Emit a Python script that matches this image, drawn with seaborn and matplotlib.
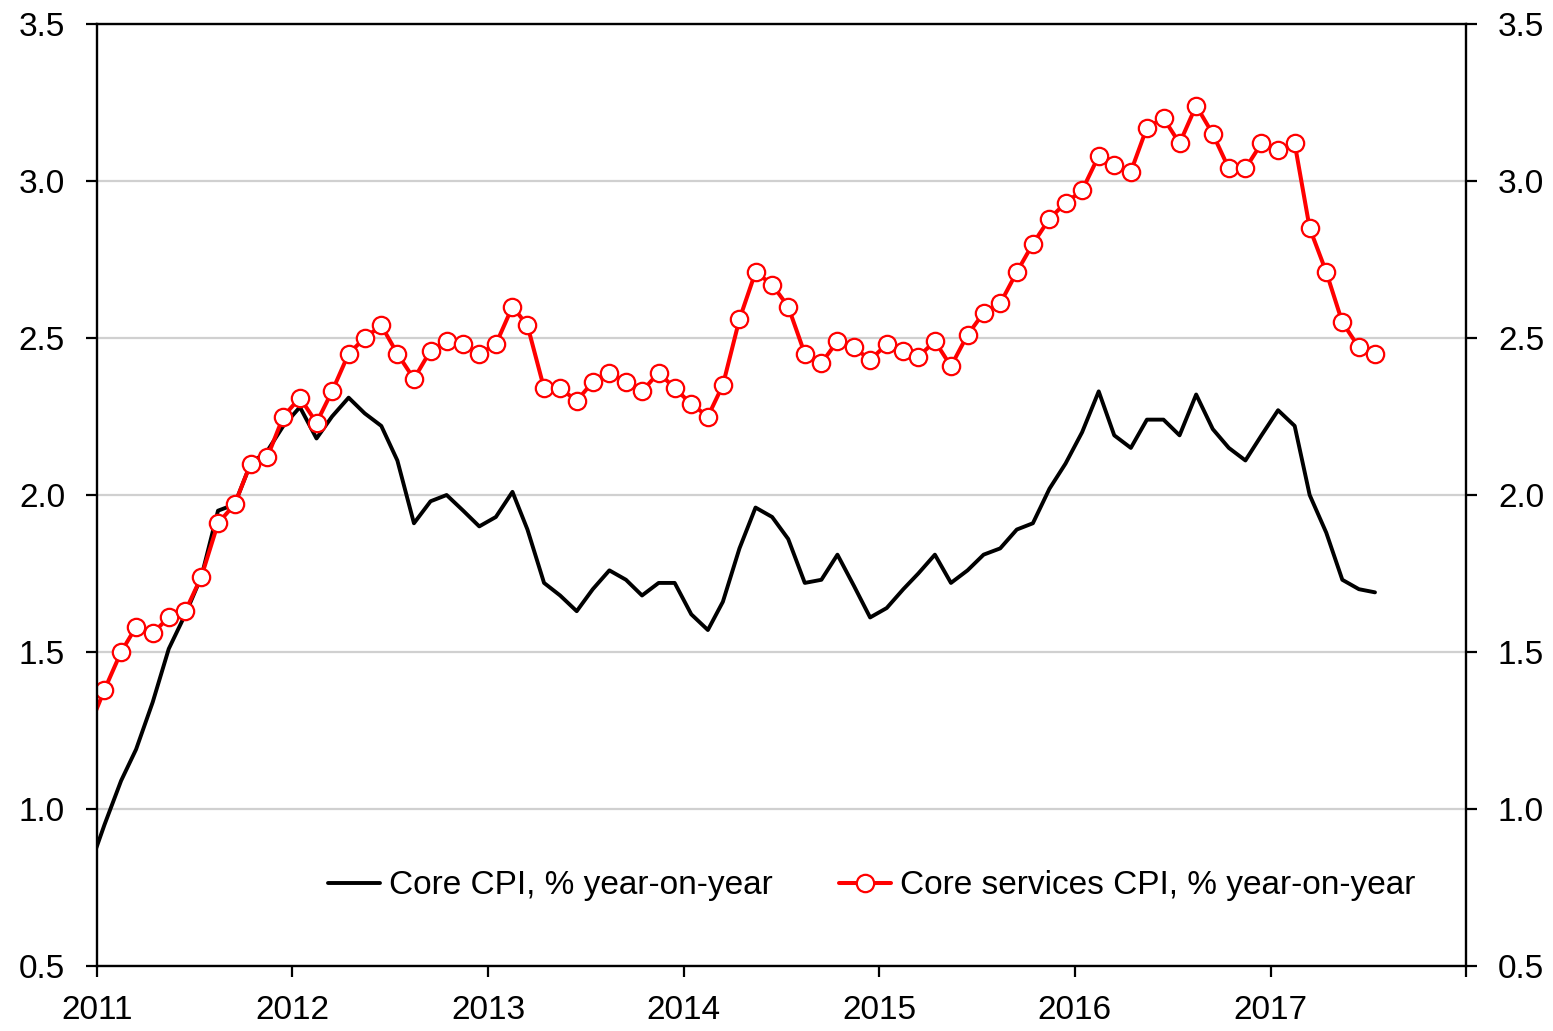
import pandas as pd
import numpy as np
import matplotlib
matplotlib.use("Agg")
import matplotlib.pyplot as plt
from matplotlib import font_manager
import seaborn as sns

# monthly data, Dec 2010 .. Jul 2017
months = pd.date_range("2010-12-01", "2017-07-01", freq="MS") + pd.Timedelta(days=14)

core_cpi = [0.80, 0.95, 1.09, 1.19, 1.34, 1.51, 1.62, 1.74, 1.95, 1.97, 2.10, 2.14, 2.22,
            2.28, 2.18, 2.25, 2.31, 2.26, 2.22, 2.11, 1.91, 1.98, 2.00, 1.95, 1.90,
            1.93, 2.01, 1.89, 1.72, 1.68, 1.63, 1.70, 1.76, 1.73, 1.68, 1.72, 1.72,
            1.62, 1.57, 1.66, 1.83, 1.96, 1.93, 1.86, 1.72, 1.73, 1.81, 1.71, 1.61,
            1.64, 1.70, 1.75, 1.81, 1.72, 1.76, 1.81, 1.83, 1.89, 1.91, 2.02, 2.10,
            2.20, 2.33, 2.19, 2.15, 2.24, 2.24, 2.19, 2.32, 2.21, 2.15, 2.11, 2.19,
            2.27, 2.22, 2.00, 1.88, 1.73, 1.70, 1.69]

core_services = [1.25, 1.38, 1.50, 1.58, 1.56, 1.61, 1.63, 1.74, 1.91, 1.97, 2.10, 2.12,
                 2.25, 2.31, 2.23, 2.33, 2.45, 2.50, 2.54, 2.45, 2.37, 2.46, 2.49, 2.48,
                 2.45, 2.48, 2.60, 2.54, 2.34, 2.34, 2.30, 2.36, 2.39, 2.36, 2.33, 2.39,
                 2.34, 2.29, 2.25, 2.35, 2.56, 2.71, 2.67, 2.60, 2.45, 2.42, 2.49, 2.47,
                 2.43, 2.48, 2.46, 2.44, 2.49, 2.41, 2.51, 2.58, 2.61, 2.71, 2.80, 2.88,
                 2.93, 2.97, 3.08, 3.05, 3.03, 3.17, 3.20, 3.12, 3.24, 3.15, 3.04, 3.04,
                 3.12, 3.10, 3.12, 2.85, 2.71, 2.55, 2.47, 2.45]

labels = ["Core CPI, % year-on-year", "Core services CPI, % year-on-year"]
years = list(range(2011, 2019))
yticks = [0.5, 1.0, 1.5, 2.0, 2.5, 3.0, 3.5]

df = pd.DataFrame({"date": months, labels[0]: core_cpi, labels[1]: core_services})

sns.set_style("white")
installed = {f.name for f in font_manager.fontManager.ttflist}
narrow = "Liberation Sans Narrow" in installed
plt.rcParams["font.family"] = ["Liberation Sans Narrow", "Liberation Sans", "DejaVu Sans"]
fs = 26 if narrow else 24
plt.rcParams["font.size"] = fs
for k in ["text.color", "xtick.color", "ytick.color", "axes.labelcolor"]:
    plt.rcParams[k] = "black"

fig = plt.figure(figsize=(15.53, 10.31), dpi=100)
ax = fig.add_axes([97 / 1553, 1 - 966 / 1031, (1466 - 97) / 1553, (966 - 24) / 1031])

sns.lineplot(data=df, x="date", y=labels[0], ax=ax, color="black", lw=2.8, label=labels[0])
# first point (Dec 2010) lies left of the axis: draw its line but no marker
sns.lineplot(data=df, x="date", y=labels[1], ax=ax, color="red", lw=2.9,
             marker="o", markersize=12.5, markerfacecolor="white",
             markeredgecolor="red", markeredgewidth=1.6, markevery=slice(1, None),
             label=labels[1])

ax.set_xlim(pd.Timestamp("2011-01-01"), pd.Timestamp("2018-01-01"))
ax.set_ylim(0.5, 3.5)
ax.set_yticks(yticks)
ax.set_yticklabels([f"{v:.1f}" for v in yticks])
ax.set_xticks([pd.Timestamp(f"{y}-01-01") for y in years])
ax.set_xticklabels([str(y) for y in years[:-1]] + [""])
ax.set_xlabel("")
ax.set_ylabel("")

ax.grid(axis="y", color="#d0d0d0", lw=1.6)
ax.set_axisbelow(True)
for s in ax.spines.values():
    s.set_color("black")
    s.set_linewidth(1.7)

ax.tick_params(axis="y", which="both", left=True, right=True, labelleft=True,
               labelright=True, direction="out", length=8, width=1.6, labelsize=fs,
               pad=15)
ax.tick_params(axis="x", bottom=True, direction="out", length=8, width=1.6,
               labelsize=fs, pad=13)

ax.legend(loc="center", bbox_to_anchor=(0.566, 0.085), ncol=2, frameon=False,
          fontsize=fs, handlelength=1.55, handletextpad=0.28, columnspacing=2.0)

fig.savefig("out.png", dpi=100)
